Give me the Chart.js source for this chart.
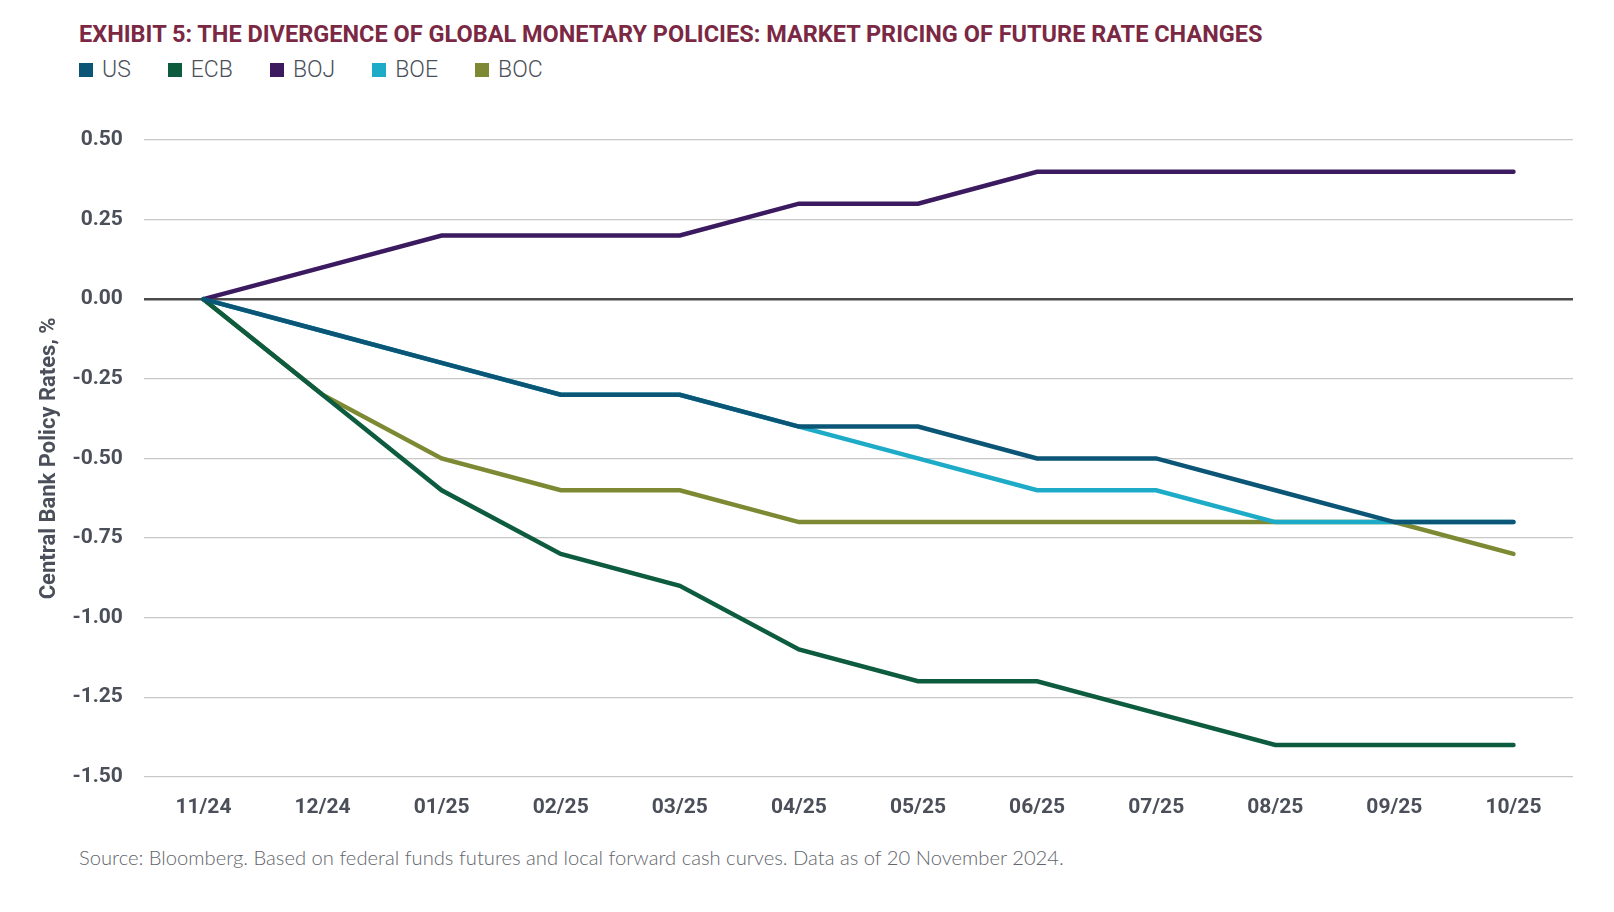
<!DOCTYPE html>
<html>
<head>
<meta charset="utf-8">
<script src="https://cdn.jsdelivr.net/npm/chart.js@4.4.1/dist/chart.umd.min.js"></script>
<style>
  body { margin: 0; background: #fff; width: 1614px; height: 912px; overflow: hidden; position: relative; }
  #title { position: absolute; left: 79px; top: 20px; font: bold 23.5px 'Roboto', sans-serif; color: #7b2844; }
  #legend { position: absolute; left: 79px; top: 56px; font: 300 23px 'Roboto', sans-serif; color: #4a4f59; display: flex; }
  #legend .item { display: flex; align-items: center; margin-right: 37px; }
  #legend .box { width: 14px; height: 14px; margin-right: 9px; }
  #source { position: absolute; left: 79px; top: 845px; font: 300 20.2px 'Lato', 'Noto Sans', sans-serif; color: #62656c; }
  #wrap { position: absolute; left: 0; top: 100px; width: 1614px; height: 743px; }
</style>
</head>
<body>
<div id="title">EXHIBIT 5: THE DIVERGENCE OF GLOBAL MONETARY POLICIES: MARKET PRICING OF FUTURE RATE CHANGES</div>
<div id="legend"></div>
<div id="wrap"><canvas id="chart"></canvas></div>
<div id="source">Source: Bloomberg. Based on federal funds futures and local forward cash curves. Data as of 20 November 2024.</div>
<script>
const months = ['11/24', '12/24', '01/25', '02/25', '03/25', '04/25', '05/25', '06/25', '07/25', '08/25', '09/25', '10/25'];
const us = [0, -0.1, -0.2, -0.3, -0.3, -0.4, -0.4, -0.5, -0.5, -0.6, -0.7, -0.7];
const ecb = [0, -0.3, -0.6, -0.8, -0.9, -1.1, -1.2, -1.2, -1.3, -1.4, -1.4, -1.4];
const boj = [0, 0.1, 0.2, 0.2, 0.2, 0.3, 0.3, 0.4, 0.4, 0.4, 0.4, 0.4];
const boe = [0, -0.1, -0.2, -0.3, -0.3, -0.4, -0.5, -0.6, -0.6, -0.7, -0.7, -0.7];
const boc = [0, -0.3, -0.5, -0.6, -0.6, -0.7, -0.7, -0.7, -0.7, -0.7, -0.7, -0.8];

const series = [
  { label: 'US', data: us, color: '#0b5676' },
  { label: 'ECB', data: ecb, color: '#0d5c3f' },
  { label: 'BOJ', data: boj, color: '#3b1a5f' },
  { label: 'BOE', data: boe, color: '#1eabc8' },
  { label: 'BOC', data: boc, color: '#7e8a33' },
];

const legend = document.getElementById('legend');
series.forEach((s) => {
  legend.innerHTML += `<div class="item"><div class="box" style="background:${s.color}"></div>${s.label}</div>`;
});

new Chart(document.getElementById('chart'), {
  type: 'line',
  data: {
    labels: months,
    datasets: series.map((s) => ({
      label: s.label,
      data: s.data,
      borderColor: s.color,
      backgroundColor: s.color,
      borderWidth: 4.5,
      pointRadius: 0,
      borderCapStyle: 'round',
      tension: 0,
    })),
  },
  options: {
    responsive: true,
    maintainAspectRatio: false,
    animation: false,
    layout: { padding: { top: 40, right: 41, left: 34, bottom: 13 } },
    plugins: {
      legend: { display: false },
      tooltip: { enabled: false },
    },
    scales: {
      x: {
        offset: true,
        grid: { display: false },
        border: { display: false },
        ticks: { color: '#4a4f59', font: { family: 'Roboto, sans-serif', size: 21, weight: 'bold' }, padding: 10 },
      },
      y: {
        min: -1.5,
        max: 0.5,
        border: { display: false },
        grid: {
          color: (ctx) => (ctx.tick && ctx.tick.value === 0 ? '#4a4a4a' : '#c8c8c8'),
          lineWidth: (ctx) => (ctx.tick && ctx.tick.value === 0 ? 2.5 : 1.2),
          drawTicks: false,
        },
        ticks: {
          stepSize: 0.25,
          color: '#4a4f59',
          padding: 21,
          font: { family: 'Roboto, sans-serif', size: 21, weight: 'bold' },
          callback: (v) => v.toFixed(2),
        },
        title: {
          display: true,
          text: 'Central Bank Policy Rates, %',
          color: '#4a4f59',
          font: { family: 'Roboto, sans-serif', size: 22, weight: 'bold' },
          padding: { top: 2, bottom: -11 },
        },
      },
    },
  },
});
</script>
</body>
</html>
